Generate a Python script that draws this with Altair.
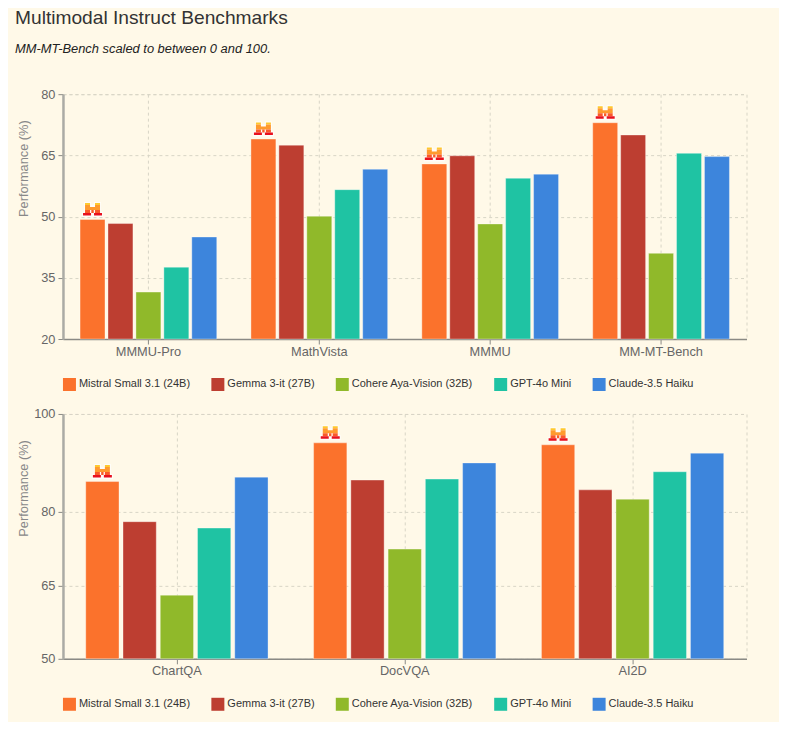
import altair as alt
import pandas as pd

models = ["Mistral Small 3.1 (24B)", "Gemma 3-it (27B)", "Cohere Aya-Vision (32B)", "GPT-4o Mini", "Claude-3.5 Haiku"]
colors = ["#FB722C", "#BD3E31", "#90B92A", "#1FC3A3", "#3D85DC"]

top_categories = ["MMMU-Pro", "MathVista", "MMMU", "MM-MT-Bench"]
top_mistral = [49.3, 69.0, 62.9, 73.0]
top_gemma = [48.3, 67.5, 64.9, 70.0]
top_cohere = [31.5, 50.1, 48.2, 41.0]
top_gpt = [37.6, 56.6, 59.4, 65.5]
top_claude = [45.0, 61.6, 60.4, 64.7]

bottom_categories = ["ChartQA", "DocVQA", "AI2D"]
bottom_mistral = [86.2, 94.1, 93.7]
bottom_gemma = [78.0, 86.5, 84.5]
bottom_cohere = [63.0, 72.4, 82.6]
bottom_gpt = [76.7, 86.7, 88.2]
bottom_claude = [87.1, 90.0, 92.0]

top_ticks = [20, 35, 50, 65, 80]
bottom_ticks = [50, 65, 80, 100]


def rects(items):
    out = []
    for x0, y0, x1, y1 in items:
        out.append(f"M{x0/10} {y0/10}L{x1/10} {y0/10}L{x1/10} {y1/10}L{x0/10} {y1/10}Z")
    return "".join(out)


icon_layers = [
    (rects([(-7.5, -6.5, -2.5, -3.5), (2.5, -6.5, 7.5, -3.5), (-7.5, -3.5, 7.5, 3.5), (-9.5, 3.5, 9.5, 6.5)]), "#FFFFFF", 2.0, 0.75),
    (rects([(-7.5, -6.5, -2.5, -4.5), (2.5, -6.5, 7.5, -4.5)]), "#FFC92E", 0, 1),
    (rects([(-7.5, -4.5, -2.5, -2.5), (2.5, -4.5, 7.5, -2.5), (-7.5, -2.5, 7.5, 0.5)]), "#FF9A2E", 0, 1),
    (rects([(-7.5, 0.5, -2.5, 3.5), (-1.2, 0.5, 1.2, 3.5), (2.5, 0.5, 7.5, 3.5)]), "#FA5A28", 0, 1),
    (rects([(-9.5, 3.5, -1.5, 6.0), (1.5, 3.5, 9.5, 6.0)]), "#E8101E", 0, 1),
]


def panel(categories, series, ticks, lo, hi):
    rows = []
    for model, vals in zip(models, series):
        for cat, v in zip(categories, vals):
            rows.append({"category": cat, "model": model, "value": v})
    df = pd.DataFrame(rows)
    x = alt.X(
        "category:N",
        sort=categories,
        scale=alt.Scale(paddingInner=0.2, paddingOuter=0.1),
        axis=alt.Axis(
            title=None, labelAngle=0, grid=True, gridDash=[3, 3], gridColor="#D8D5C6",
            domainColor="#8A8A85", domainWidth=1.5, tickColor="#8A8A85", tickSize=5,
            labelColor="#666666", labelFontSize=12.8, labelPadding=1,
        ),
    )
    y = alt.Y(
        "value:Q",
        scale=alt.Scale(domain=[lo, hi], nice=False, zero=False, clamp=True),
        axis=alt.Axis(
            title="Performance (%)", values=ticks, grid=True, gridDash=[3, 3], gridColor="#D8D5C6",
            domainColor="#ABABA5", domainWidth=2.5, tickColor="#8A8A85", tickSize=5,
            labelColor="#666666", labelFontSize=12.8, labelPadding=3,
            titleColor="#888888", titleFontSize=12.8, titleFontWeight="normal",
            titleX=-32, titleY=74, titleAlign="center", titleBaseline="bottom", titleAngle=270,
        ),
    )
    xoff = alt.XOffset("model:N", sort=models, scale=alt.Scale(domain=models, paddingInner=0.107))
    color = alt.Color(
        "model:N",
        sort=models,
        scale=alt.Scale(domain=models, range=colors),
        legend=alt.Legend(
            title=None, orient="none", legendX=0, legendY=284, direction="horizontal", columns=5,
            symbolType="square", symbolSize=169, symbolStrokeWidth=0, symbolOpacity=1,
            labelFontSize=11, labelColor="#333333", labelOffset=3, columnPadding=20.5, padding=0,
        ),
    )
    bars = alt.Chart(df).mark_bar(stroke="#FFFFFF", strokeWidth=1, strokeOpacity=0.35).encode(
        x=x, y=y, xOffset=xoff, color=color
    )
    layers = [bars]
    for path, fill, sw, op in icon_layers:
        layers.append(
            alt.Chart(df).transform_filter(alt.datum.model == models[0]).mark_point(
                shape=path, filled=True, fill=fill, size=400, opacity=op,
                stroke=fill, strokeWidth=sw, yOffset=-10,
            ).encode(x=x, y=y, xOffset=xoff)
        )
    return alt.layer(*layers).properties(width=684, height=245)


top = panel(top_categories, [top_mistral, top_gemma, top_cohere, top_gpt, top_claude], top_ticks, 20, 80)
bottom = panel(bottom_categories, [bottom_mistral, bottom_gemma, bottom_cohere, bottom_gpt, bottom_claude], bottom_ticks, 50, 100)

chart = (
    alt.vconcat(top, bottom, spacing=15)
    .resolve_scale(color="independent", x="independent", y="independent", xOffset="independent")
    .properties(
        title=alt.TitleParams(
            "Multimodal Instruct Benchmarks",
            subtitle="MM-MT-Bench scaled to between 0 and 100.",
            anchor="start", frame="group", offset=30, dx=-48, dy=-2,
            font="Liberation Sans", fontSize=19.2, fontWeight="normal", color="#333333",
            subtitleFont="Liberation Sans", subtitleFontSize=12.9, subtitleFontStyle="italic",
            subtitleColor="#222222", subtitlePadding=15,
        ),
        background="#FFF9E8",
        padding={"left": 7, "top": 0, "right": 31.5, "bottom": 10},
    )
    .configure(font="Liberation Sans")
    .configure_view(stroke="#D8D5C6", strokeDash=[3, 3])
)

chart.save("out.html", embed_options={"renderer": "svg", "actions": False})
